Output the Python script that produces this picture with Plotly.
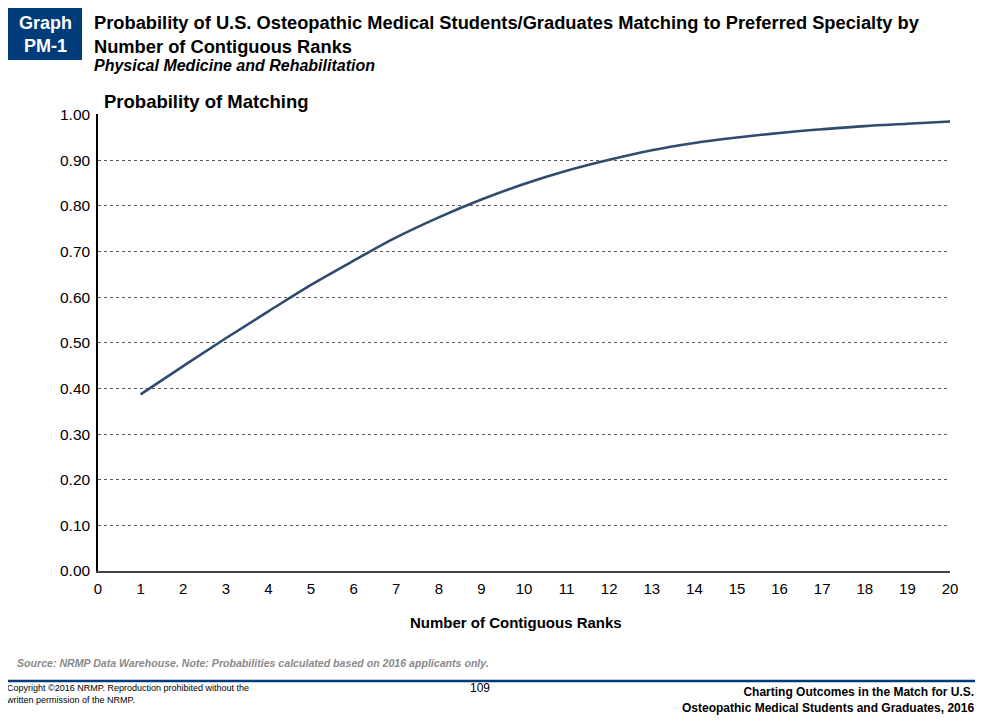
import plotly.graph_objects as go

ranks = list(range(1, 21))
prob_match = [0.387, 0.449, 0.510, 0.569, 0.627, 0.680, 0.731, 0.775, 0.814, 0.848,
              0.877, 0.901, 0.922, 0.938, 0.950, 0.960, 0.968, 0.975, 0.980, 0.985]
x_ticks = list(range(0, 21))
y_ticks = [0.0, 0.1, 0.2, 0.3, 0.4, 0.5, 0.6, 0.7, 0.8, 0.9, 1.0]
y_tick_labels = [f"{v:.2f}" for v in y_ticks]

FONT = "Liberation Sans, Arial, sans-serif"
NAVY = "#003B7A"

fig = go.Figure()
fig.add_trace(go.Scatter(
    x=ranks, y=prob_match, mode="lines",
    line=dict(color="#2F4B6E", width=2.6, shape="spline", smoothing=1.0),
    showlegend=False, hoverinfo="x+y"))

fig.update_layout(
    width=985, height=712,
    margin=dict(l=90, r=43, t=106, b=149),
    paper_bgcolor="white", plot_bgcolor="white",
    font=dict(family=FONT, color="black", size=15),
    xaxis=dict(range=[0, 20], tickmode="array", tickvals=x_ticks,
               ticktext=[str(v) for v in x_ticks],
               showgrid=False, zeroline=False, showline=True,
               linecolor="#444444", linewidth=2, ticks="",
               ticklabelstandoff=3,
               tickfont=dict(size=15, family=FONT, color="black")),
    yaxis=dict(range=[0, 1.0015], tickmode="array", tickvals=y_ticks,
               ticktext=y_tick_labels,
               showgrid=True, gridcolor="#5a5a5a", gridwidth=1, griddash="dot",
               zeroline=False, showline=True, linecolor="black", linewidth=1.5,
               ticks="", ticklen=0, ticklabelstandoff=3,
               tickfont=dict(size=15.5, family=FONT, color="black")),
)


def px_x(p):
    return (p - 98) / 852


def px_y(p):
    return (571 - p) / 457


fig.update_layout(shapes=[
    dict(type="rect", xref="x domain", yref="y domain",
         x0=px_x(8), x1=px_x(82), y0=px_y(60), y1=px_y(7),
         fillcolor=NAVY, line=dict(width=0), layer="above"),
    dict(type="line", xref="x domain", yref="y domain",
         x0=px_x(86), x1=px_x(985), y0=px_y(6), y1=px_y(6),
         line=dict(color=NAVY, width=3)),
    dict(type="line", xref="x domain", yref="y domain",
         x0=px_x(5), x1=px_x(975), y0=px_y(681), y1=px_y(681),
         line=dict(color=NAVY, width=2.5)),
])

ann = []
ann.append(dict(text="<b>Graph<br>PM-1</b>", x=px_x(45), y=px_y(35),
                xanchor="center", yanchor="middle", showarrow=False,
                font=dict(size=18, color="white", family=FONT), align="center"))
ann.append(dict(text="<b>Probability of U.S. Osteopathic Medical Students/Graduates Matching to Preferred Specialty by<br>Number of Contiguous Ranks</b>",
                x=px_x(92), y=px_y(10), xanchor="left", yanchor="top", showarrow=False,
                align="left", font=dict(size=18.3, color="black", family=FONT)))
ann.append(dict(text="<b><i>Physical Medicine and Rehabilitation</i></b>",
                x=px_x(92), y=px_y(65), xanchor="left", yanchor="middle", showarrow=False,
                align="left", font=dict(size=16, color="black", family=FONT)))
ann.append(dict(text="<b>Probability of Matching</b>",
                x=px_x(102), y=px_y(101), xanchor="left", yanchor="middle", showarrow=False,
                font=dict(size=18.5, color="black", family=FONT)))
ann.append(dict(text="<b>Number of Contiguous Ranks</b>",
                x=px_x(516), y=px_y(622), xanchor="center", yanchor="middle", showarrow=False,
                font=dict(size=15, color="black", family=FONT)))
ann.append(dict(text="<b><i>Source: NRMP Data Warehouse. Note: Probabilities calculated based on 2016 applicants only.</i></b>",
                x=px_x(15), y=px_y(663), xanchor="left", yanchor="middle", showarrow=False,
                font=dict(size=10.6, color="#8a8a8a", family=FONT)))
ann.append(dict(text="Copyright ©2016 NRMP. Reproduction prohibited without the<br>written permission of the NRMP.",
                x=px_x(4), y=px_y(680.5), xanchor="left", yanchor="top", showarrow=False,
                align="left", font=dict(size=9, color="black", family=FONT)))
ann.append(dict(text="109", x=px_x(480), y=px_y(688), xanchor="center", yanchor="middle",
                showarrow=False, font=dict(size=12, color="black", family=FONT)))
ann.append(dict(text="<b>Charting Outcomes in the Match for U.S.<br>Osteopathic Medical Students and Graduates, 2016</b>",
                x=px_x(976), y=px_y(683), xanchor="right", yanchor="top", showarrow=False,
                align="right", font=dict(size=12, color="black", family=FONT)))
for a in ann:
    a["xref"] = "x domain"
    a["yref"] = "y domain"
fig.update_layout(annotations=ann)

fig.write_html("out.html")
